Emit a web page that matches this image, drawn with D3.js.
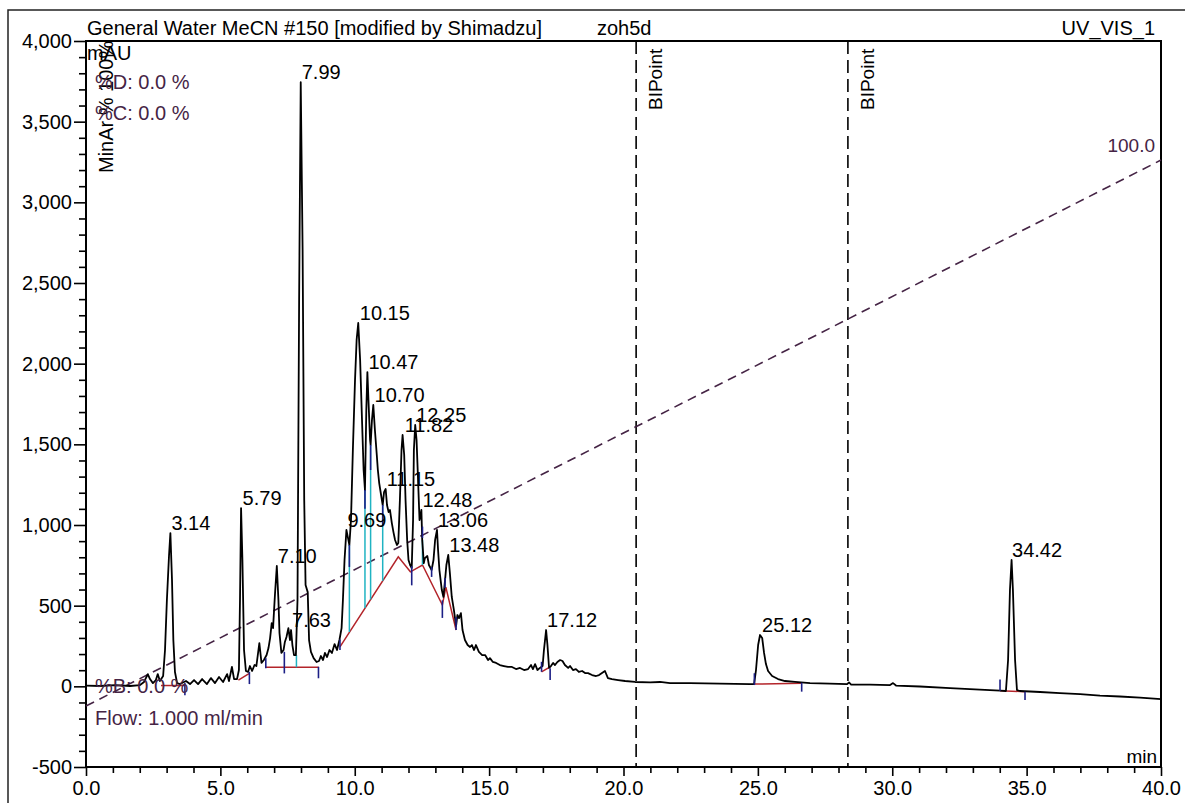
<!DOCTYPE html>
<html lang="en">
<head>
<meta charset="utf-8">
<title>zoh5d UV_VIS_1</title>
<script src="https://cdn.jsdelivr.net/npm/d3@7"></script>
<style>
  body { margin: 0; background: #fff; }
  svg text { font-family: "Liberation Sans", Arial, sans-serif; }
</style>
</head>
<body>
<div id="chart"></div>
<script>
// trace: retention time (min) and signal (mAU)
var times = [0,0.52,1.08,1.64,2.01,2.16,2.30,2.38,2.49,2.60,2.67,2.75,2.87,2.94,3.01,3.09,3.14,3.20,3.25,3.31,3.39,3.50,
  3.72,3.87,4.02,4.17,4.32,4.50,4.65,4.80,4.95,5.10,5.25,5.32,5.43,5.51,5.62,5.69,5.73,5.77,5.82,5.88,5.95,6.03,6.10,6.18,
  6.27,6.34,6.45,6.53,6.62,6.72,6.79,6.85,6.91,6.96,7.03,7.10,7.16,7.20,7.27,7.35,7.40,7.46,7.53,7.59,7.63,7.68,7.74,7.81,
  7.87,7.93,7.99,8.06,8.12,8.17,8.25,8.30,8.37,8.47,8.58,8.67,8.74,8.82,8.89,8.97,9.06,9.15,9.25,9.34,9.43,9.51,9.56,9.62,
  9.69,9.75,9.80,9.86,9.93,10.01,10.07,10.13,10.20,10.27,10.33,10.38,10.43,10.47,10.51,10.57,10.59,10.64,10.69,10.75,10.82,
  10.86,10.91,10.98,11.04,11.09,11.15,11.20,11.26,11.31,11.38,11.44,11.50,11.57,11.62,11.68,11.74,11.78,11.84,11.89,11.95,
  12.00,12.06,12.12,12.17,12.20,12.25,12.30,12.36,12.41,12.45,12.48,12.51,12.57,12.61,12.70,12.76,12.86,12.93,12.99,13.06,
  13.10,13.15,13.24,13.30,13.36,13.41,13.48,13.54,13.61,13.69,13.77,13.82,13.88,13.95,14.01,14.10,14.20,14.29,14.36,14.44,
  14.51,14.62,14.74,14.85,14.96,15.03,15.14,15.26,15.40,15.55,15.70,15.85,16.00,16.15,16.30,16.45,16.56,16.63,16.71,16.80,
  16.89,16.99,17.04,17.12,17.17,17.23,17.30,17.38,17.45,17.54,17.64,17.73,17.82,17.94,18.01,18.12,18.23,18.34,18.46,18.57,
  18.68,18.83,18.98,19.09,19.31,19.42,19.57,19.80,20.06,20.43,20.99,21.36,21.73,22.47,23.59,24.71,24.86,24.93,25.01,25.08,
  25.16,25.23,25.30,25.38,25.53,25.75,26.01,26.38,26.94,27.68,28.32,28.39,28.47,29.17,29.92,30.03,30.14,31.03,32.15,33.26,
  34.01,34.23,34.31,34.38,34.44,34.49,34.57,34.64,34.75,35.50,36.24,36.99,37.73,38.47,39.22,40.00];
var mau = [5,2,8,2,8,27,76,45,20,39,76,33,64,225,535,814,950,659,287,89,20,14,
  33,14,39,14,45,14,51,20,58,27,76,33,120,45,45,101,535,1105,783,225,95,89,126,95,
  132,126,268,145,163,194,237,299,392,361,566,746,535,330,207,225,275,306,361,287,349,256,194,194,
  535,2395,3745,2704,1154,628,584,287,213,175,151,157,188,163,207,182,225,207,262,225,287,361,535,783,
  969,919,876,1031,1465,1899,2147,2252,2023,1651,1341,1217,1713,1948,1775,1527,1496,1651,1744,1589,1434,
  1341,1260,1186,1124,1204,1223,1124,1080,1093,1012,956,907,876,888,1155,1465,1558,1434,1155,907,
  783,752,733,1031,1465,1620,1527,1260,1031,1062,1093,907,764,795,808,752,721,783,907,969,
  845,721,597,554,659,752,814,702,554,473,374,442,423,454,349,287,256,244,256,225,
  256,213,194,194,163,175,151,145,132,126,120,120,107,114,101,107,132,107,138,101,
  114,126,225,349,256,114,126,145,132,151,163,157,132,114,126,101,107,89,95,82,
  82,70,64,70,95,51,45,39,33,27,24,27,20,20,17,14,14,101,256,318,
  300,207,138,95,64,45,33,27,20,17,14,24,11,11,8,20,5,-1,-11,-20,
  -26,-29,163,597,783,597,163,-23,-29,-35,-42,-48,-57,-63,-70,-79];

// peak annotations
var peakLabels = ["3.14","5.79","7.10","7.63","7.99","9.69","10.15","10.47","10.70","11.15","11.82","12.25","12.48","13.06","13.48","17.12","25.12","34.42"];
var peakTimes = [3.14,5.79,7.10,7.63,7.99,9.69,10.15,10.47,10.70,11.15,11.82,12.25,12.48,13.06,13.48,17.12,25.12,34.42];
var peakHeights = [950,1105,746,349,3745,969,2252,1948,1744,1223,1558,1620,1093,969,814,349,318,783];

// integration baselines (red)
var baseT = [[2.79,3.68],[5.67,6.08],[6.69,8.66],[9.45,11.62,12.07,12.52,13.26,13.39,13.77],[16.95,17.27],[24.87,26.63],[34.01,34.94]];
var baseV = [[5,5],[39,81],[118,118],[245,803,710,752,504,615,349],[90,121],[14,19],[-27,-33]];

// peak drop lines (cyan)
var dropT = [7.83,9.80,10.38,10.59,11.04,12.52];
var dropFrom = [118,337,485,539,654,752];
var dropTo = [194,876,1217,1496,1124,907];

// peak delimiters (navy)
var delimT = [3.68,6.08,6.69,7.38,8.65,9.45,9.80,10.38,10.59,11.04,12.12,12.52,12.86,13.26,13.36,13.77,16.95,17.27,24.87,26.63,34.01,34.94];
var delimTop = [20,90,175,214,121,290,876,1217,1496,1124,745,990,740,533,671,430,152,112,81,22,43,-33];
var delimBot = [-55,14,112,80,50,225,740,1100,1341,1000,626,920,678,424,609,349,90,39,8,-33,-27,-85];

// gradient %B
var gradT = [0, 40];
var gradB = [0, 100];

// events
var eventT = [20.47, 28.35];
var eventLabels = ["BIPoint", "BIPoint"];

var xTicks = [0,5,10,15,20,25,30,35,40];
var xTickLabels = ["0.0","5.0","10.0","15.0","20.0","25.0","30.0","35.0","40.0"];
var yTicks = [-500,0,500,1000,1500,2000,2500,3000,3500,4000];
var yTickLabels = ["-500","0","500","1,000","1,500","2,000","2,500","3,000","3,500","4,000"];

var W = 1185, H = 803;
var plotL = 86, plotR = 1161, plotT = 41, plotB = 767;
var purple = "#452445";

var svg = d3.select("#chart").append("svg")
  .attr("width", W).attr("height", H)
  .style("display", "block");

svg.append("rect").attr("width", W).attr("height", H).attr("fill", "#fff");

// outer frame
svg.append("rect")
  .attr("x", 8).attr("y", 10).attr("width", W + 10).attr("height", H + 10)
  .attr("fill", "none").attr("stroke", "#222").attr("stroke-width", 1.5);

var x = d3.scaleLinear().domain([0, 40]).range([plotL, plotR]);
var y = d3.scaleLinear().domain([-500, 4000]).range([plotB, plotT]);
var pct = d3.scaleLinear().domain([0, 100]).range([-122, 3262]);

// header
svg.append("text").attr("x", 87).attr("y", 35).attr("font-size", 20)
  .text("General Water MeCN #150 [modified by Shimadzu]");
svg.append("text").attr("x", 597).attr("y", 35).attr("font-size", 20).text("zoh5d");
svg.append("text").attr("x", 1155).attr("y", 35).attr("font-size", 20)
  .attr("text-anchor", "end").text("UV_VIS_1");

// axes
var yMinor = d3.range(-500, 4001, 100).filter(function(d) { return d % 500 !== 0; });
var xMinor = d3.range(0, 41, 1).filter(function(d) { return d % 5 !== 0; });

var gy = svg.append("g").attr("transform", "translate(" + plotL + ",0)");
gy.call(d3.axisLeft(y).tickValues(yTicks).tickSize(12).tickPadding(2)
  .tickFormat(function(d, i) { return yTickLabels[i]; }));
gy.append("g").call(d3.axisLeft(y).tickValues(yMinor).tickSize(7).tickFormat(""));

var gx = svg.append("g").attr("transform", "translate(0," + plotB + ")");
gx.call(d3.axisBottom(x).tickValues(xTicks).tickSize(9).tickPadding(5)
  .tickFormat(function(d, i) { return xTickLabels[i]; }));
gx.append("g").call(d3.axisBottom(x).tickValues(xMinor).tickSize(6).tickFormat(""));

svg.selectAll(".domain").remove();
svg.selectAll(".tick line").attr("stroke", "#000").attr("stroke-width", 1.6);
svg.selectAll(".tick text").attr("font-size", 20).attr("fill", "#000")
  .attr("font-family", "Liberation Sans, Arial, sans-serif");

// plot box
svg.append("rect")
  .attr("x", plotL).attr("y", plotT).attr("width", plotR - plotL).attr("height", plotB - plotT)
  .attr("fill", "none").attr("stroke", "#000").attr("stroke-width", 2);

// event lines
eventT.forEach(function(t, i) {
  svg.append("line")
    .attr("x1", x(t)).attr("x2", x(t)).attr("y1", plotT).attr("y2", plotB)
    .attr("stroke", "#000").attr("stroke-width", 1.6).attr("stroke-dasharray", "13,6");
  svg.append("text")
    .attr("transform", "translate(" + (x(t) + 26) + ",110) rotate(-90)")
    .attr("font-size", 19).text(eventLabels[i]);
});

// gradient line
var gradLine = d3.line()
  .x(function(d, i) { return x(gradT[i]); })
  .y(function(d) { return y(pct(d)); });
svg.append("path").datum(gradB).attr("d", gradLine)
  .attr("fill", "none").attr("stroke", purple).attr("stroke-width", 1.6)
  .attr("stroke-dasharray", "9,6");
svg.append("text").attr("x", x(gradT[1]) - 6).attr("y", y(pct(gradB[1])) - 8)
  .attr("text-anchor", "end").attr("font-size", 19).attr("fill", purple)
  .text(gradB[1].toFixed(1));

// red baselines
baseT.forEach(function(ts, k) {
  var pts = ts.map(function(t, i) { return [x(t), y(baseV[k][i])]; });
  svg.append("path").attr("d", d3.line()(pts))
    .attr("fill", "none").attr("stroke", "#b3242a").attr("stroke-width", 1.5);
});

// cyan drop lines
svg.selectAll(".drop").data(dropT).enter().append("line")
  .attr("x1", function(d) { return x(d); }).attr("x2", function(d) { return x(d); })
  .attr("y1", function(d, i) { return y(dropFrom[i]); })
  .attr("y2", function(d, i) { return y(dropTo[i]); })
  .attr("stroke", "#1fb3c2").attr("stroke-width", 1.5);

// trace
var line = d3.line()
  .x(function(d, i) { return x(times[i]); })
  .y(function(d) { return y(d); });
svg.append("path").datum(mau).attr("d", line)
  .attr("fill", "none").attr("stroke", "#000").attr("stroke-width", 1.8)
  .attr("stroke-linejoin", "round");

// navy delimiters
svg.selectAll(".delim").data(delimT).enter().append("line")
  .attr("x1", function(d) { return x(d); }).attr("x2", function(d) { return x(d); })
  .attr("y1", function(d, i) { return y(delimTop[i]); })
  .attr("y2", function(d, i) { return y(delimBot[i]); })
  .attr("stroke", "#1c1f86").attr("stroke-width", 1.6);

// peak labels
svg.selectAll(".plabel").data(peakLabels).enter().append("text")
  .attr("x", function(d, i) { return x(peakTimes[i]) + 1; })
  .attr("y", function(d, i) { return y(peakHeights[i]) - 3; })
  .attr("font-size", 20).text(function(d) { return d; });

// method annotations
svg.append("text").attr("x", 87).attr("y", 60).attr("font-size", 20).text("mAU");
svg.append("text").attr("transform", "translate(113,173) rotate(-90)")
  .attr("font-size", 20).text("MinAr % 100%");
svg.append("text").attr("x", 95).attr("y", 89).attr("font-size", 20).attr("fill", purple).text("%D: 0.0 %");
svg.append("text").attr("x", 95).attr("y", 120).attr("font-size", 20).attr("fill", purple).text("%C: 0.0 %");
svg.append("text").attr("x", 95).attr("y", 693).attr("font-size", 20).attr("fill", purple).text("%B: 0.0 %");
svg.append("text").attr("x", 95).attr("y", 725).attr("font-size", 20).attr("fill", purple).text("Flow: 1.000 ml/min");
svg.append("text").attr("x", 1157).attr("y", 763).attr("font-size", 19)
  .attr("text-anchor", "end").text("min");
</script>
</body>
</html>
